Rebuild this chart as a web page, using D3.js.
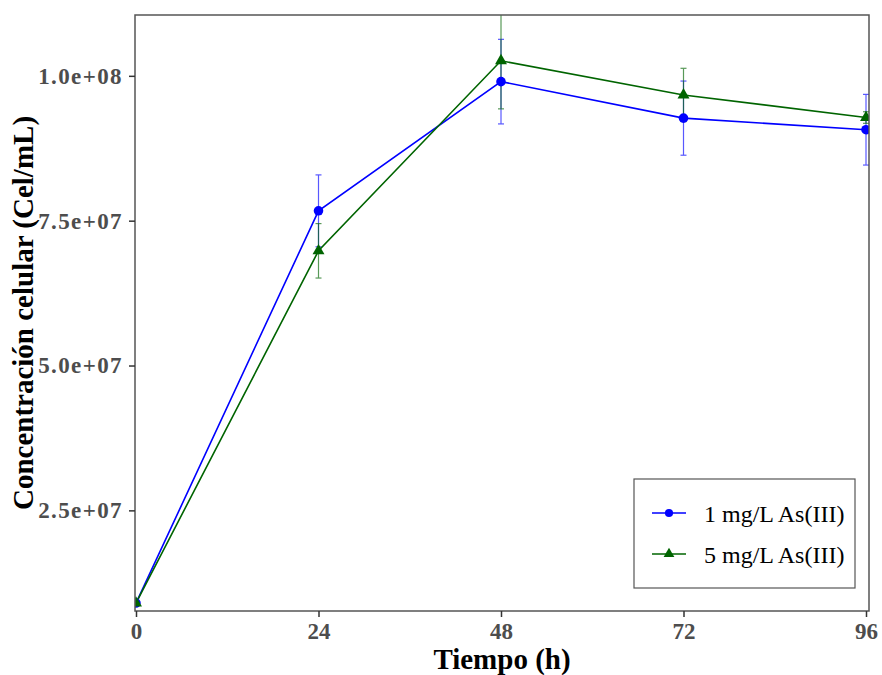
<!DOCTYPE html>
<html>
<head>
<meta charset="utf-8">
<script src="https://cdn.jsdelivr.net/npm/d3@7"></script>
<style>
  body { margin: 0; background: #fff; }
  text { font-family: "Liberation Serif", "Times New Roman", serif; }
</style>
</head>
<body>
<div id="chart"></div>
<script>
// data
var hours = [0, 24, 48, 72, 96];
var seriesNames = ["1 mg/L As(III)", "5 mg/L As(III)"];
var mean1 = [9.0e6, 7.67e7, 9.90e7, 9.27e7, 9.07e7];
var sd1 = [3e5, 6.2e6, 7.3e6, 6.4e6, 6.1e6];
var mean5 = [9.0e6, 6.98e7, 1.026e8, 9.67e7, 9.28e7];
var sd5 = [3e5, 4.7e6, 8.3e6, 4.6e6, 1.0e6];
var xTicks = [0, 24, 48, 72, 96];
var yTicks = [2.5e7, 5.0e7, 7.5e7, 1.0e8];
var yLimits = [7.63e6, 1.105e8];

var width = 882, height = 675;
var panel = { left: 135, right: 869, top: 15, bottom: 611 };

var svg = d3.select("#chart")
    .append("svg")
    .attr("width", width)
    .attr("height", height);

var x = d3.scaleLinear().domain([0, 96]).range([136, 866]);
var y = d3.scaleLinear().domain(yLimits).range([panel.bottom, panel.top]);

var series = [
    { name: seriesNames[0], mean: mean1, sd: sd1, color: "#0000FF", shape: d3.symbolCircle },
    { name: seriesNames[1], mean: mean5, sd: sd5, color: "#006400", shape: d3.symbolTriangle }
];

svg.append("clipPath").attr("id", "clip")
    .append("rect")
    .attr("x", panel.left)
    .attr("y", panel.top)
    .attr("width", panel.right - panel.left)
    .attr("height", panel.bottom - panel.top);

var plot = svg.append("g").attr("clip-path", "url(#clip)");

// error bars
series.forEach(function (s) {
    var g = plot.append("g")
        .attr("stroke", s.color)
        .attr("stroke-width", 1.2)
        .attr("opacity", 0.65);
    hours.forEach(function (h, i) {
        var lo = y(s.mean[i] - s.sd[i]), hi = y(s.mean[i] + s.sd[i]);
        g.append("line").attr("x1", x(h)).attr("x2", x(h)).attr("y1", lo).attr("y2", hi);
        g.append("line").attr("x1", x(h) - 3).attr("x2", x(h) + 3).attr("y1", lo).attr("y2", lo);
        g.append("line").attr("x1", x(h) - 3).attr("x2", x(h) + 3).attr("y1", hi).attr("y2", hi);
    });
});

var line = d3.line()
    .x(function (d, i) { return x(hours[i]); })
    .y(function (d) { return y(d); });

series.forEach(function (s) {
    plot.append("path")
        .datum(s.mean)
        .attr("d", line)
        .attr("fill", "none")
        .attr("stroke", s.color)
        .attr("stroke-width", 1.6);
});

series.forEach(function (s) {
    var size = s.shape === d3.symbolCircle ? 72 : 62;
    plot.selectAll(null)
        .data(s.mean)
        .enter()
        .append("path")
        .attr("d", d3.symbol().type(s.shape).size(size))
        .attr("transform", function (d, i) { return "translate(" + x(hours[i]) + "," + y(d) + ")"; })
        .attr("fill", s.color);
});

// panel border
svg.append("rect")
    .attr("x", panel.left)
    .attr("y", panel.top)
    .attr("width", panel.right - panel.left)
    .attr("height", panel.bottom - panel.top)
    .attr("fill", "none")
    .attr("stroke", "#555")
    .attr("stroke-width", 1.5);

// axes
var fmt = function (v) {
    return d3.format(".1e")(v).replace(/e([+-])(\d)$/, "e$10$2");
};

var xAxis = svg.append("g")
    .attr("transform", "translate(0," + panel.bottom + ")")
    .call(d3.axisBottom(x).tickValues(xTicks).tickSize(6).tickPadding(6));
var yAxis = svg.append("g")
    .attr("transform", "translate(" + panel.left + ",0)")
    .call(d3.axisLeft(y).tickValues(yTicks).tickFormat(fmt).tickSize(6).tickPadding(6));

[xAxis, yAxis].forEach(function (a) {
    a.select(".domain").remove();
    a.selectAll(".tick line").attr("stroke", "#333").attr("stroke-width", 1.5);
    a.selectAll(".tick text")
        .attr("fill", "#4d4d4d")
        .style("font-family", "'Liberation Serif', serif")
        .style("font-weight", "bold")
        .style("font-size", "23px");
});
yAxis.selectAll(".tick text").style("letter-spacing", "1.4px");

svg.append("text")
    .text("Tiempo (h)")
    .attr("x", (panel.left + panel.right) / 2)
    .attr("y", 669)
    .attr("text-anchor", "middle")
    .style("font-weight", "bold")
    .style("font-size", "29px")
    .attr("fill", "#000");

svg.append("text")
    .text("Concentración celular (Cel/mL)")
    .attr("transform", "translate(33," + (panel.top + panel.bottom) / 2 + ") rotate(-90)")
    .attr("text-anchor", "middle")
    .style("font-weight", "bold")
    .style("font-size", "29px")
    .attr("fill", "#000");

// legend
var legend = svg.append("g");
legend.append("rect")
    .attr("x", 634)
    .attr("y", 479)
    .attr("width", 221)
    .attr("height", 109)
    .attr("fill", "#fff")
    .attr("stroke", "#555")
    .attr("stroke-width", 1.2);

series.forEach(function (s, i) {
    var ly = 513 + i * 41;
    legend.append("line")
        .attr("x1", 652).attr("x2", 686)
        .attr("y1", ly).attr("y2", ly)
        .attr("stroke", s.color)
        .attr("stroke-width", 1.6);
    legend.append("path")
        .attr("d", d3.symbol().type(s.shape).size(s.shape === d3.symbolCircle ? 52 : 50))
        .attr("transform", "translate(669," + ly + ")")
        .attr("fill", s.color);
    legend.append("text")
        .text(s.name)
        .attr("x", 704)
        .attr("y", ly + 8.5)
        .style("font-size", "24px")
        .attr("fill", "#000");
});
</script>
</body>
</html>
